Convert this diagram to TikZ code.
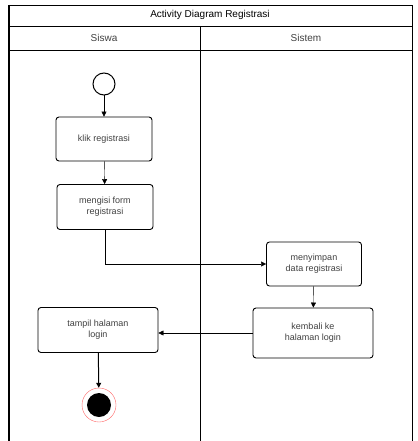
\documentclass[tikz,border=0pt]{standalone}
\usepackage{fontspec}
\setmainfont{Liberation Sans}
\usetikzlibrary{arrows.meta}

\begin{document}
\begin{tikzpicture}[x=1pt,y=-1pt,
    act/.style={draw, line width=0.9pt, rounded corners=3pt, align=center, inner sep=1pt,
      font=\fontsize{9}{11}\selectfont, text=black!75},
    flow/.style={-{Triangle[length=5pt,width=5pt]}}]
  \useasboundingbox (0,0) rectangle (417,441);
  % lanes: frame, title row and header row
  \draw[line width=1.2pt] (9,5) -- (9,441);
  \draw (9,5) -- (412,5) -- (412,441);
  \draw (9,26) -- (412,26);
  \draw (9,50) -- (412,50);
  \draw (200,26) -- (200,441);
  \node[font=\fontsize{10}{12}\selectfont] (title) at (210,15) {Activity Diagram Registrasi};
  \node[font=\fontsize{10}{12}\selectfont, text=black!75] (siswa) at (104,38) {Siswa};
  \node[font=\fontsize{10}{12}\selectfont, text=black!75] (sistem) at (306,38) {Sistem};
  % start and end points
  \node[draw, circle, line width=1pt, minimum size=22pt, inner sep=0pt] (start) at (104,84) {};
  \node[draw=red!60, circle, fill=white, minimum size=34pt, inner sep=0pt] (stop) at (99,405) {};
  \node[circle, fill=black, minimum size=24pt, inner sep=0pt] (stopin) at (stop) {};
  % actions
  \node[act, minimum width=96pt, minimum height=44pt] (klik) at (104,139) {klik registrasi};
  \node[act, minimum width=96pt, minimum height=45pt] (isi) at (105,207) {mengisi form\\registrasi};
  \node[act, minimum width=95pt, minimum height=44pt] (simpan) at (314,264) {menyimpan\\data registrasi};
  \node[act, minimum width=120pt, minimum height=50pt] (kembali) at (313,333) {kembali ke\\halaman login};
  \node[act, minimum width=120pt, minimum height=45pt] (tampil) at (98,330) {tampil halaman\\login};
  % flows
  \draw[flow] (start) -- (klik);
  \draw[flow] (klik) -- (isi);
  \draw[flow] (isi.south) |- (simpan.west);
  \draw[flow] (simpan) -- (kembali);
  \draw[flow] (kembali.west) -- (tampil.east |- kembali.west);
  \draw[flow, line width=1pt] (tampil) -- (stop);
\end{tikzpicture}
\end{document}
